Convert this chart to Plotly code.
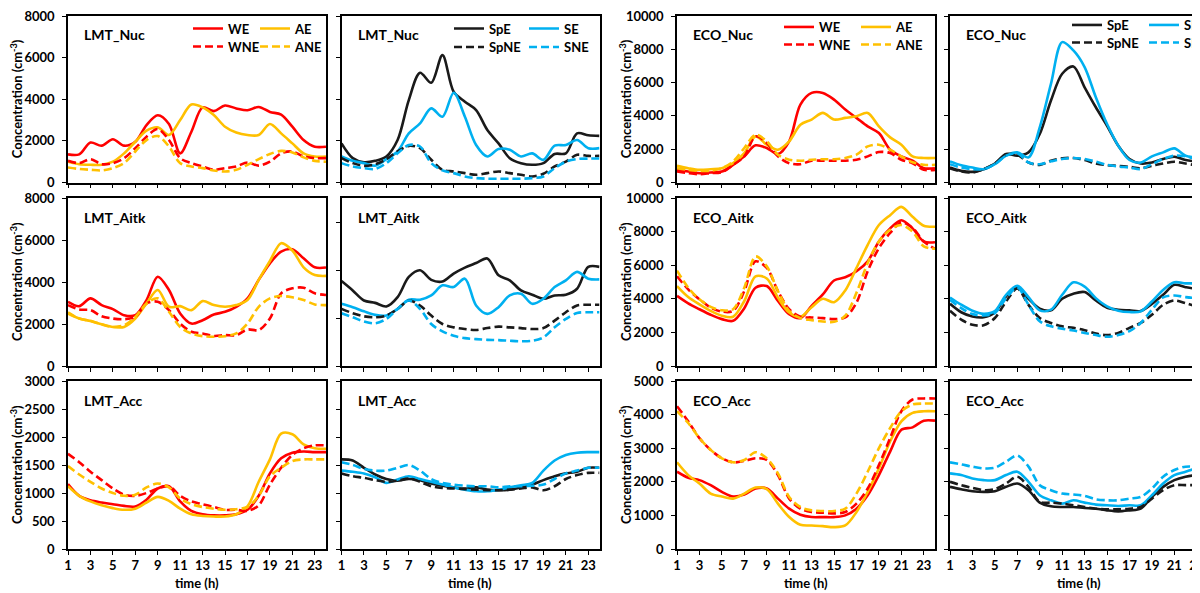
import plotly.graph_objects as go

hours = list(range(1, 25))
x_ticks = list(range(1, 24, 2))

# ---------------- Row 1 : Nucleation ----------------
LMT_NUC_WE = [1350,1350,1920,1770,2080,1770,1960,2760,3230,2810,1400,2440,3610,3430,3700,3560,3470,3630,3390,3260,2680,2040,1720,1720]
LMT_NUC_AE = [1000,880,850,850,1000,1400,1960,2490,2650,2280,3000,3750,3610,3240,2680,2400,2280,2280,2810,2360,1880,1400,1250,1250]
LMT_NUC_WNE = [1040,930,1120,880,930,1170,1650,2200,2570,2040,1170,930,770,610,690,770,960,810,1000,1400,1490,1250,1170,1170]
LMT_NUC_ANE = [720,650,610,580,690,930,1490,2040,2230,1730,930,770,690,580,530,610,850,1120,1370,1520,1440,1210,1040,1000]

LMT_NUC_SPE = [1880,1170,970,1040,1250,2040,3960,5270,4790,6120,4360,3880,3480,2520,1880,1170,930,850,930,1370,1400,2360,2270,2240]
LMT_NUC_SE = [1250,1040,930,810,1120,1490,2360,2840,3560,3160,4310,3160,1800,1250,1610,1570,1250,1400,1090,1770,1800,2040,1650,1650]
LMT_NUC_SPNE = [1170,930,800,880,1120,1490,1760,1650,1090,610,530,450,370,450,530,450,370,290,420,770,1000,1330,1280,1280]
LMT_NUC_SNE = [930,770,690,650,930,1400,1800,1730,930,580,450,290,210,180,180,180,180,210,290,690,1000,1130,1150,1150]

ECO_NUC_WE = [760,660,560,600,660,1060,1570,2230,2070,1710,2470,4680,5380,5380,4980,4380,3880,3370,2970,1970,1570,1310,860,860]
ECO_NUC_AE = [1000,860,760,800,860,1160,1770,2770,2270,1970,2470,3470,3780,4180,3780,3880,3980,4180,3370,2710,2270,1570,1470,1470]
ECO_NUC_WNE = [660,560,500,560,620,1060,1570,2770,2370,1570,1160,1100,1310,1310,1310,1310,1370,1570,1830,1770,1370,1160,760,760]
ECO_NUC_ANE = [860,760,700,700,860,1260,2070,2870,2470,1670,1370,1310,1370,1400,1400,1470,1670,2170,2270,1970,1570,1220,1060,1060]

ECO_NUC_SPE = [900,700,640,800,1140,1710,1610,1810,2910,4920,6530,6970,5720,4520,3410,2210,1410,1140,1200,1410,1550,1350,1270,1270]
ECO_NUC_SE = [1270,1040,900,800,1100,1610,1810,1510,3310,5920,8430,7930,6930,5120,3510,2210,1350,1200,1570,1810,2050,1610,1510,1510]
ECO_NUC_SPNE = [840,660,600,800,1140,1670,1670,1200,1060,1310,1450,1470,1350,1140,1040,1000,940,860,1000,1140,1250,1140,1040,1040]
ECO_NUC_SNE = [1100,900,800,800,1100,1610,1750,1200,1100,1270,1410,1470,1410,1250,1060,960,900,800,1100,1410,1610,1570,1410,1410]

# ---------------- Row 2 : Aitken ----------------
LMT_AITK_WE = [3060,2850,3220,2900,2710,2420,2420,3140,4250,3620,2500,2020,2180,2450,2580,2820,3220,4100,4890,5450,5560,5130,4700,4690]
LMT_AITK_AE = [2500,2260,2140,1990,1860,1860,2260,2980,3620,2820,2850,2660,3090,2900,2820,2900,3140,4100,5000,5850,5500,4700,4330,4290]
LMT_AITK_WNE = [2900,2690,2660,2370,2260,2230,2340,2980,3060,2660,2020,1630,1550,1430,1470,1470,1740,1710,2260,3460,3700,3730,3460,3380]
LMT_AITK_ANE = [2550,2260,2150,1980,1860,1940,2340,2980,3220,2580,1860,1550,1420,1390,1420,1550,2020,2820,3220,3330,3270,3140,2930,2900]

LMT_AITK_SPE = [3540,3150,2730,2630,2480,2870,3710,3990,3590,3520,3850,4100,4290,4480,3780,3570,3150,2970,2800,2940,2970,3220,4130,4130]
LMT_AITK_SE = [2590,2450,2280,2130,2100,2380,2760,2760,2940,3360,3290,3640,2520,2170,2450,2940,3010,2590,2800,3290,3570,3920,3640,3610]
LMT_AITK_SPNE = [2380,2200,2070,2030,2100,2380,2730,2520,2100,1750,1610,1540,1500,1580,1640,1610,1580,1540,1580,1890,2240,2520,2550,2550]
LMT_AITK_SNE = [2200,2030,1860,1780,1960,2380,2730,2380,1750,1440,1260,1160,1120,1090,1080,1050,1030,1050,1190,1610,1960,2210,2240,2240]

ECO_AITK_WE = [4170,3730,3380,3050,2790,2690,3440,4660,4760,3870,3080,2850,3580,4260,5090,5280,5640,6230,7410,8190,8680,8190,7410,7370]
ECO_AITK_AE = [4760,4110,3670,3280,2990,2930,3870,5340,5210,4070,3180,2930,3500,4000,3800,4500,5840,7210,8390,8980,9470,8880,8350,8290]
ECO_AITK_WNE = [5340,4560,3970,3480,3240,3280,4460,6230,5840,4460,3380,2930,2890,2850,2790,2890,3770,5640,7020,7920,8550,8230,7410,6980]
ECO_AITK_ANE = [5680,4660,3970,3520,3320,3380,4660,6520,5930,4460,3280,2850,2730,2650,2630,2990,4360,6130,7410,8110,8390,8000,7120,6980]

ECO_AITK_SPE = [3700,3200,2950,2900,3200,4140,4690,4000,3410,3310,4000,4300,4400,3900,3470,3350,3310,3270,3700,4240,4830,4690,4590,4590]
ECO_AITK_SE = [4080,3650,3290,3110,3270,4240,4770,4100,3310,3350,4240,4980,4730,4040,3550,3290,3210,3250,3840,4530,4980,4920,4920,4920]
ECO_AITK_SPNE = [3290,2760,2460,2420,2860,3840,4610,3640,2860,2560,2360,2270,2130,1930,1840,1970,2270,2560,3050,3640,3900,3740,3550,3450]
ECO_AITK_SNE = [3940,3450,3090,3010,3150,4040,4670,3640,2660,2360,2220,2110,1970,1840,1740,1840,2070,2560,3350,4080,4200,4100,4040,4040]

# ---------------- Row 3 : Accumulation ----------------
LMT_ACC_WE = [1160,950,870,830,800,770,760,880,1080,1120,850,680,620,600,600,620,700,950,1350,1620,1720,1740,1730,1730]
LMT_ACC_AE = [1120,950,850,780,730,700,720,830,930,860,720,620,590,580,580,620,760,1200,1600,2060,2050,1870,1800,1790]
LMT_ACC_WNE = [1700,1550,1380,1230,1080,970,950,1000,1080,1120,950,850,800,750,700,700,680,780,1150,1450,1680,1800,1850,1850]
LMT_ACC_ANE = [1480,1330,1200,1080,1000,950,970,1100,1170,1100,900,800,750,720,700,710,750,950,1300,1450,1570,1600,1600,1600]

LMT_ACC_SPE = [1600,1580,1450,1330,1250,1220,1250,1230,1170,1130,1100,1080,1100,1060,1050,1060,1100,1150,1230,1300,1350,1380,1450,1450]
LMT_ACC_SE = [1400,1380,1350,1280,1180,1240,1300,1250,1200,1150,1100,1060,1030,1030,1060,1100,1140,1180,1400,1580,1680,1720,1730,1730]
LMT_ACC_SPNE = [1350,1300,1270,1230,1200,1220,1260,1200,1120,1090,1080,1070,1060,1050,1050,1060,1080,1100,1050,1120,1250,1320,1360,1360]
LMT_ACC_SNE = [1550,1500,1430,1400,1400,1450,1500,1400,1250,1180,1150,1130,1120,1120,1100,1120,1120,1130,1150,1250,1350,1400,1450,1450]

ECO_ACC_WE = [2300,2120,2050,1900,1700,1560,1620,1800,1800,1500,1200,1020,950,950,950,1000,1200,1600,2200,2900,3550,3620,3820,3820]
ECO_ACC_AE = [2580,2200,1950,1650,1560,1500,1650,1830,1780,1350,950,720,700,680,650,700,1100,1700,2400,3200,3800,4050,4100,4100]
ECO_ACC_WNE = [4250,3800,3300,2950,2700,2580,2620,2700,2650,2200,1500,1200,1100,1080,1060,1100,1350,1800,2500,3300,4100,4450,4480,4480]
ECO_ACC_ANE = [4100,3750,3300,2950,2700,2580,2650,2880,2700,2250,1550,1250,1150,1130,1130,1200,1650,2300,3000,3600,4100,4300,4330,4330]

ECO_ACC_SPE = [1850,1780,1720,1700,1720,1850,1950,1750,1380,1270,1250,1250,1220,1200,1150,1120,1150,1200,1550,1850,2050,2150,2200,2200]
ECO_ACC_SE = [2250,2200,2100,2050,2050,2200,2300,2000,1600,1450,1350,1450,1380,1320,1300,1280,1300,1300,1600,1950,2200,2300,2400,2400]
ECO_ACC_SPNE = [2000,1900,1820,1750,1780,1950,2150,1850,1400,1380,1350,1300,1250,1200,1180,1180,1200,1250,1500,1750,1900,1900,1900,1900]
ECO_ACC_SNE = [2580,2520,2450,2400,2420,2600,2780,2450,1900,1750,1650,1620,1580,1480,1450,1450,1500,1550,1800,2150,2350,2450,2450,2450]

PANEL_LABELS = [["LMT_Nuc", "LMT_Nuc", "ECO_Nuc", "ECO_Nuc"],
                ["LMT_Aitk", "LMT_Aitk", "ECO_Aitk", "ECO_Aitk"],
                ["LMT_Acc", "LMT_Acc", "ECO_Acc", "ECO_Acc"]]
Y_MAX = [[8000, 8000, 10000, 10000],
         [8000, 7000, 10000, 10000],
         [3000, 3000, 5000, 5000]]
Y_DTICK = [[2000, 2000, 2000, 2000],
           [2000, 2000, 2000, 2000],
           [500, 500, 1000, 1000]]

NAMES_WA = ["WE", "AE", "WNE", "ANE"]
NAMES_SS = ["SpE", "SE", "SpNE", "SNE"]

PANEL_DATA = [
    [[LMT_NUC_WE, LMT_NUC_AE, LMT_NUC_WNE, LMT_NUC_ANE],
     [LMT_NUC_SPE, LMT_NUC_SE, LMT_NUC_SPNE, LMT_NUC_SNE],
     [ECO_NUC_WE, ECO_NUC_AE, ECO_NUC_WNE, ECO_NUC_ANE],
     [ECO_NUC_SPE, ECO_NUC_SE, ECO_NUC_SPNE, ECO_NUC_SNE]],
    [[LMT_AITK_WE, LMT_AITK_AE, LMT_AITK_WNE, LMT_AITK_ANE],
     [LMT_AITK_SPE, LMT_AITK_SE, LMT_AITK_SPNE, LMT_AITK_SNE],
     [ECO_AITK_WE, ECO_AITK_AE, ECO_AITK_WNE, ECO_AITK_ANE],
     [ECO_AITK_SPE, ECO_AITK_SE, ECO_AITK_SPNE, ECO_AITK_SNE]],
    [[LMT_ACC_WE, LMT_ACC_AE, LMT_ACC_WNE, LMT_ACC_ANE],
     [LMT_ACC_SPE, LMT_ACC_SE, LMT_ACC_SPNE, LMT_ACC_SNE],
     [ECO_ACC_WE, ECO_ACC_AE, ECO_ACC_WNE, ECO_ACC_ANE],
     [ECO_ACC_SPE, ECO_ACC_SE, ECO_ACC_SPNE, ECO_ACC_SNE]],
]

RED = "#FF0000"
GOLD = "#FFC000"
BLACK = "#1A1A1A"
BLUE = "#00B0F0"
COLORS_WA = [RED, GOLD, RED, GOLD]
COLORS_SS = [BLACK, BLUE, BLACK, BLUE]
DASHES = ["solid", "solid", "8px,4px", "8px,4px"]

# the page body has an 8px margin, so the figure is sized to fit the window
OFF = 8
PAGE_W, PAGE_H = 1200, 593
W, H = PAGE_W - OFF, PAGE_H - OFF
FONT = "Lato, 'Open Sans', sans-serif"


def fx(px):
    return (px - OFF) / W


def fy(py):
    return 1 - (py - OFF) / H


# layout geometry in page pixels
COL_X = [(68, 326), (341.5, 599.5), (677, 935), (950, 1208)]
ROW_Y = [(16, 182.5), (198, 366), (381, 549)]
PX_PER_H = (326 - 68) / 23.0

fig = go.Figure()

# legend anchors (page pixels): sample start x, centre y
LEG_POS = [
    [(193, 28.5), (260, 28.5), (193, 46.5), (260, 46.5)],
    [(454, 28.5), (529, 28.5), (454, 47), (529, 47)],
    [(784, 27), (861, 27), (784, 44.5), (861, 44.5)],
    [(1072, 25), (1149, 25), (1072, 42.5), (1149, 42.5)],
]

layout_kw = {}
annotations = []
leg_idx = 0
for r in range(3):
    for c in range(4):
        k = r * 4 + c + 1
        xa = "x" if k == 1 else f"x{k}"
        ya = "y" if k == 1 else f"y{k}"
        names = NAMES_WA if c in (0, 2) else NAMES_SS
        cols = COLORS_WA if c in (0, 2) else COLORS_SS
        for s in range(4):
            tr = dict(x=hours, y=PANEL_DATA[r][c][s], mode="lines", name=names[s],
                      line=dict(color=cols[s], width=2.6, dash=DASHES[s], shape="spline", smoothing=0.9),
                      xaxis=xa, yaxis=ya, showlegend=False, hoverinfo="skip")
            if r == 0:
                leg_idx += 1
                lname = "legend" if leg_idx == 1 else f"legend{leg_idx}"
                tr["showlegend"] = True
                tr["legend"] = lname
                px, py = LEG_POS[c][s]
                layout_kw[lname] = dict(
                    x=fx(px - 5), y=fy(py), xanchor="left", yanchor="middle",
                    bgcolor="rgba(0,0,0,0)", borderwidth=0,
                    font=dict(family=FONT, size=13, color="black", weight="bold"),
                    itemwidth=30, tracegroupgap=0, orientation="h")
            fig.add_trace(go.Scatter(**tr))

        x0, x1 = COL_X[c]
        y0, y1 = ROW_Y[r]
        xmax = 24
        dom_x1 = fx(x1)
        if x1 > PAGE_W:
            dom_x1 = 1.0
            xmax = 1 + (PAGE_W - x0) / PX_PER_H
        xaxis_key = "xaxis" if k == 1 else f"xaxis{k}"
        yaxis_key = "yaxis" if k == 1 else f"yaxis{k}"
        layout_kw[xaxis_key] = dict(
            domain=[fx(x0), dom_x1], anchor=ya, range=[1, xmax], automargin=False,
            tickmode="array", tickvals=x_ticks, ticktext=[str(v) for v in x_ticks],
            showticklabels=(r == 2), ticks="outside", ticklen=4, tickwidth=1.3, tickcolor="black",
            showline=True, linecolor="black", linewidth=1.6, mirror=True,
            showgrid=False, zeroline=False, ticklabeloverflow="allow",
            tickfont=dict(family=FONT, size=13, color="black", weight="bold"))
        layout_kw[yaxis_key] = dict(
            domain=[fy(y1), fy(y0)], anchor=xa, range=[0, Y_MAX[r][c]], automargin=False,
            tick0=0, dtick=Y_DTICK[r][c], tickformat="d",
            showticklabels=(c in (0, 2)), ticks="outside", ticklen=4, tickwidth=1.3, tickcolor="black",
            showline=True, linecolor="black", linewidth=1.6, mirror=(x1 <= PAGE_W),
            showgrid=False, zeroline=False, ticklabelstandoff=5, ticklabeloverflow="allow",
            tickfont=dict(family=FONT, size=13, color="black", weight="bold"))

        annotations.append(dict(
            text=PANEL_LABELS[r][c], xref=f"{xa} domain", yref=f"{ya} domain",
            x=14 / (x1 - x0) if x1 <= PAGE_W else 14 / (PAGE_W - x0),
            y=1 - 19 / (y1 - y0), xanchor="left", yanchor="middle", showarrow=False,
            font=dict(family=FONT, size=14, color="black", weight="bold")))

        if c in (0, 2):
            annotations.append(dict(
                text="Concentration (cm<sup>-3</sup>)", xref="paper", yref="paper",
                x=fx(x0 - 52), y=fy((y0 + y1) / 2), textangle=-90,
                xanchor="center", yanchor="middle", showarrow=False,
                font=dict(family=FONT, size=13, color="black", weight="bold")))
        if r == 2:
            annotations.append(dict(
                text="time (h)", xref="paper", yref="paper",
                x=fx(x0 + 129), y=fy(583), xanchor="center", yanchor="middle",
                showarrow=False,
                font=dict(family=FONT, size=13, color="black", weight="bold")))

fig.update_layout(
    width=W, height=H, margin=dict(l=0, r=0, t=0, b=0, autoexpand=False),
    paper_bgcolor="white", plot_bgcolor="white",
    annotations=annotations, **layout_kw)

fig.write_html("out.html")
